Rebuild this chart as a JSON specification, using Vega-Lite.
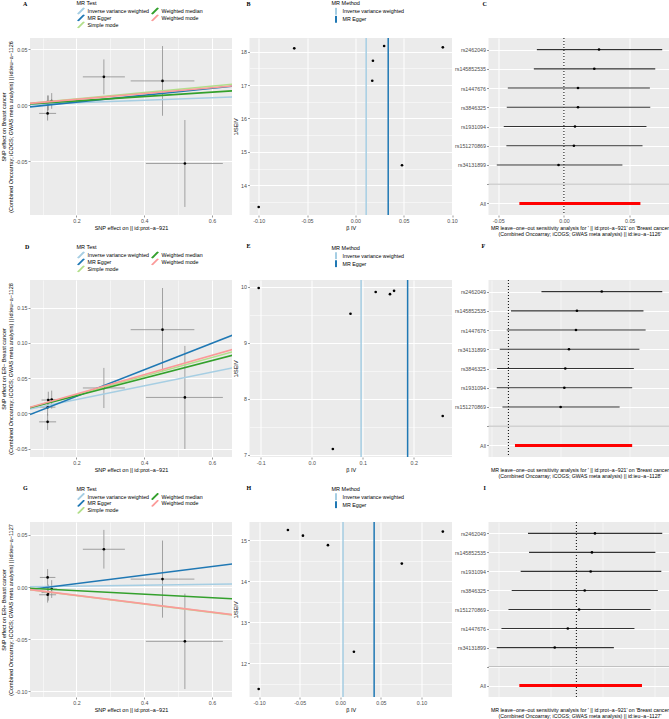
{
"$schema": "https://vega.github.io/schema/vega-lite/v6.json",
"autosize": {"type": "none"},
"padding": {"left": 30, "top": 38, "right": 639, "bottom": 681},
"background": "white",
"bounds": "flush",
"align": "each",
"columns": 4,
"spacing": {"row": 65, "column": 17.5},
"resolve": {"scale": {"color": "independent"}, "legend": {"color": "independent"}},
"datasets": {
"scA": [
{"snp":"S1","bx":0.115,"bx_lo":0.090,"bx_hi":0.140,"by":-0.0073,"by_lo":-0.0137,"by_hi":-0.0009},
{"snp":"S2","bx":0.127,"bx_lo":0.112,"bx_hi":0.142,"by":0.0038,"by_lo":-0.0032,"by_hi":0.0108},
{"snp":"S3","bx":0.117,"bx_lo":0.097,"bx_hi":0.137,"by":0.0021,"by_lo":-0.0045,"by_hi":0.0087},
{"snp":"S4","bx":0.115,"bx_lo":0.092,"bx_hi":0.138,"by":0.0020,"by_lo":-0.0047,"by_hi":0.0087},
{"snp":"S5","bx":0.281,"bx_lo":0.219,"bx_hi":0.343,"by":0.0253,"by_lo":0.0097,"by_hi":0.0409},
{"snp":"S6","bx":0.454,"bx_lo":0.360,"bx_hi":0.548,"by":0.0217,"by_lo":-0.0094,"by_hi":0.0528},
{"snp":"S7","bx":0.520,"bx_lo":0.405,"bx_hi":0.632,"by":-0.052,"by_lo":-0.0908,"by_hi":-0.0132}
],
"scD": [
{"snp":"S1","bx":0.115,"bx_lo":0.090,"bx_hi":0.140,"by":-0.012,"by_lo":-0.0235,"by_hi":-0.0005},
{"snp":"S2","bx":0.127,"bx_lo":0.112,"bx_hi":0.142,"by":0.0195,"by_lo":0.0067,"by_hi":0.0323},
{"snp":"S3","bx":0.117,"bx_lo":0.097,"bx_hi":0.137,"by":0.0189,"by_lo":0.0071,"by_hi":0.0307},
{"snp":"S4","bx":0.115,"bx_lo":0.092,"bx_hi":0.138,"by":0.0088,"by_lo":-0.0033,"by_hi":0.0209},
{"snp":"S5","bx":0.281,"bx_lo":0.219,"bx_hi":0.343,"by":0.036,"by_lo":0.0076,"by_hi":0.0644},
{"snp":"S6","bx":0.454,"bx_lo":0.360,"bx_hi":0.548,"by":0.1186,"by_lo":0.0596,"by_hi":0.1776},
{"snp":"S7","bx":0.520,"bx_lo":0.405,"bx_hi":0.632,"by":0.0226,"by_lo":-0.0504,"by_hi":0.0956}
],
"scG": [
{"snp":"S1","bx":0.115,"bx_lo":0.090,"bx_hi":0.140,"by":-0.0074,"by_lo":-0.0149,"by_hi":0.0001},
{"snp":"S2","bx":0.127,"bx_lo":0.112,"bx_hi":0.142,"by":-0.0019,"by_lo":-0.0104,"by_hi":0.0066},
{"snp":"S3","bx":0.117,"bx_lo":0.097,"bx_hi":0.137,"by":-0.0053,"by_lo":-0.0130,"by_hi":0.0024},
{"snp":"S4","bx":0.115,"bx_lo":0.092,"bx_hi":0.138,"by":0.0092,"by_lo":0.0012,"by_hi":0.0172},
{"snp":"S5","bx":0.281,"bx_lo":0.219,"bx_hi":0.343,"by":0.0362,"by_lo":0.0177,"by_hi":0.0547},
{"snp":"S6","bx":0.454,"bx_lo":0.360,"bx_hi":0.548,"by":0.0076,"by_lo":-0.0293,"by_hi":0.0445},
{"snp":"S7","bx":0.520,"bx_lo":0.405,"bx_hi":0.632,"by":-0.052,"by_lo":-0.0977,"by_hi":-0.0063}
],
"lnA": [
{"method":"Inverse variance weighted","x":0.063,"y":0.0007},{"method":"Inverse variance weighted","x":0.66,"y":0.0074},
{"method":"MR Egger","x":0.063,"y":-0.0015},{"method":"MR Egger","x":0.66,"y":0.0169},
{"method":"Simple mode","x":0.063,"y":0.0018},{"method":"Simple mode","x":0.66,"y":0.0188},
{"method":"Weighted median","x":0.063,"y":0.0012},{"method":"Weighted median","x":0.66,"y":0.0128},
{"method":"Weighted mode","x":0.063,"y":0.0016},{"method":"Weighted mode","x":0.66,"y":0.0172}
],
"lnD": [
{"method":"Inverse variance weighted","x":0.063,"y":0.0061},{"method":"Inverse variance weighted","x":0.66,"y":0.0644},
{"method":"MR Egger","x":0.063,"y":-0.0017},{"method":"MR Egger","x":0.66,"y":0.1106},
{"method":"Simple mode","x":0.063,"y":0.0083},{"method":"Simple mode","x":0.66,"y":0.0871},
{"method":"Weighted median","x":0.063,"y":0.0079},{"method":"Weighted median","x":0.66,"y":0.0823},
{"method":"Weighted mode","x":0.063,"y":0.0086},{"method":"Weighted mode","x":0.66,"y":0.0904}
],
"lnG": [
{"method":"Inverse variance weighted","x":0.063,"y":0.0003},{"method":"Inverse variance weighted","x":0.66,"y":0.0029},
{"method":"MR Egger","x":0.063,"y":-0.0024},{"method":"MR Egger","x":0.66,"y":0.0221},
{"method":"Simple mode","x":0.063,"y":-0.0026},{"method":"Simple mode","x":0.66,"y":-0.0267},
{"method":"Weighted median","x":0.063,"y":-0.0011},{"method":"Weighted median","x":0.66,"y":-0.0112},
{"method":"Weighted mode","x":0.063,"y":-0.0025},{"method":"Weighted mode","x":0.66,"y":-0.0264}
],
"fB": [{"b":-0.1,"s":13.35},{"b":-0.0632,"s":18.1},{"b":0.0182,"s":17.73},{"b":0.0175,"s":17.13},{"b":0.0298,"s":18.17},{"b":0.0483,"s":14.6},{"b":0.0905,"s":18.13}],
"fE": [{"b":-0.104,"s":9.98},{"b":0.076,"s":9.52},{"b":0.1254,"s":9.91},{"b":0.1534,"s":9.87},{"b":0.1614,"s":9.93},{"b":0.0414,"s":7.1},{"b":0.2568,"s":7.69}],
"fH": [{"b":-0.1005,"s":11.37},{"b":-0.0645,"s":15.25},{"b":-0.046,"s":15.11},{"b":-0.0152,"s":14.88},{"b":0.0168,"s":12.28},{"b":0.0758,"s":14.43},{"b":0.1263,"s":15.21}],
"vB": [{"method":"Inverse variance weighted","b":0.0112},{"method":"MR Egger","b":0.034}],
"vE": [{"method":"Inverse variance weighted","b":0.0968},{"method":"MR Egger","b":0.188}],
"vH": [{"method":"Inverse variance weighted","b":0.0034},{"method":"MR Egger","b":0.0417}],
"loC": [
{"SNP":"rs2462049","b":0.0267,"lo":-0.0206,"hi":0.0748},
{"SNP":"rs145852535","b":0.0231,"lo":-0.0229,"hi":0.0695},
{"SNP":"rs1447676","b":0.0107,"lo":-0.0427,"hi":0.0654},
{"SNP":"rs3846325","b":0.0107,"lo":-0.0435,"hi":0.0657},
{"SNP":"rs1931094","b":0.0084,"lo":-0.0458,"hi":0.0628},
{"SNP":"rs151270869","b":0.0076,"lo":-0.0438,"hi":0.0598},
{"SNP":"rs34131899","b":-0.0041,"lo":-0.0511,"hi":0.0445},
{"SNP":"All","b":0.0122,"lo":-0.0339,"hi":0.0582}
],
"loF": [
{"SNP":"rs2462049","b":0.1347,"lo":0.0477,"hi":0.222},
{"SNP":"rs145852535","b":0.0989,"lo":0.0038,"hi":0.1949},
{"SNP":"rs1447676","b":0.0975,"lo":-0.0024,"hi":0.198},
{"SNP":"rs34131899","b":0.0874,"lo":-0.0124,"hi":0.189},
{"SNP":"rs3846325","b":0.0821,"lo":-0.0163,"hi":0.181},
{"SNP":"rs1931094","b":0.0807,"lo":-0.0168,"hi":0.1786},
{"SNP":"rs151270869","b":0.0754,"lo":-0.0086,"hi":0.1605},
{"SNP":"All","b":0.094,"lo":0.0095,"hi":0.1786}
],
"loI": [
{"SNP":"rs2462049","b":0.0178,"lo":-0.0463,"hi":0.0822},
{"SNP":"rs145852535","b":0.0149,"lo":-0.0453,"hi":0.0756},
{"SNP":"rs1931094","b":0.0137,"lo":-0.0533,"hi":0.0813},
{"SNP":"rs3846325","b":0.008,"lo":-0.0619,"hi":0.078},
{"SNP":"rs151270869","b":0.0026,"lo":-0.065,"hi":0.0711},
{"SNP":"rs1447676","b":-0.0082,"lo":-0.0717,"hi":0.0556},
{"SNP":"rs34131899","b":-0.0207,"lo":-0.0762,"hi":0.0359},
{"SNP":"All","b":0.0041,"lo":-0.0546,"hi":0.0628}
],
"sep": [{"SNP":" "}],
"one": [{}]
},
"concat": [
  {"width": 202, "height": 177, "title": {"text": "A", "dx": -7, "offset": -6},
   "layer": [
    {"data": {"name": "scA"}, "mark": {"type": "rule", "color": "#8C8C8C", "strokeWidth": 0.8},
     "encoding": {
      "x": {"field": "bx_lo", "type": "quantitative", "scale": {"domain": [0.063, 0.659], "nice": false, "zero": false},
        "axis": {"title": "SNP effect on  || id:prot−a−921", "values": [0.1,0.2,0.3,0.4,0.5,0.6], "format": ".1f",
          "labelExpr": "indexof([0.1,0.3,0.5], datum.value) >= 0 ? '' : datum.label",
          "gridWidth": {"condition": {"test": "indexof([0.1,0.3,0.5], datum.value) >= 0", "value": 0.5}, "value": 1},
          "tickOpacity": {"condition": {"test": "indexof([0.1,0.3,0.5], datum.value) >= 0", "value": 0}, "value": 1}}},
      "x2": {"field": "bx_hi"},
      "y": {"field": "by", "type": "quantitative", "scale": {"domain": [-0.098, 0.06], "nice": false, "zero": false},
        "axis": {"title": ["SNP effect on Breast cancer", "(Combined Oncoarray; iCOGS; GWAS meta analysis) || id:ieu−a−1126"], "titlePadding": 1, "values": [-0.05,0,0.05], "format": ".2f", "gridWidth": 1}}}},
    {"data": {"name": "scA"}, "mark": {"type": "rule", "color": "#8C8C8C", "strokeWidth": 0.8},
     "encoding": {"x": {"field": "bx", "type": "quantitative"}, "y": {"field": "by_lo", "type": "quantitative"}, "y2": {"field": "by_hi"}}},
    {"data": {"name": "scA"}, "mark": {"type": "point", "filled": true, "color": "#000000", "size": 7, "opacity": 1},
     "encoding": {"x": {"field": "bx", "type": "quantitative"}, "y": {"field": "by", "type": "quantitative"}}},
    {"data": {"name": "lnA"}, "mark": {"type": "line", "strokeWidth": 1.6, "clip": true},
     "encoding": {"x": {"field": "x", "type": "quantitative"}, "y": {"field": "y", "type": "quantitative"},
      "color": {"field": "method", "type": "nominal",
        "scale": {"domain": ["Inverse variance weighted","MR Egger","Simple mode","Weighted median","Weighted mode"], "range": ["#A6CEE3","#1F78B4","#B2DF8A","#33A02C","#FB9A99"]},
        "legend": {"title": "MR Test", "orient": "none", "legendX": 46.5, "legendY": -37, "columns": 2, "symbolType": "M-1,1L1,-1", "symbolSize": 42, "symbolStrokeWidth": 1.8, "clipHeight": 6.8, "columnPadding": 1, "rowPadding": 0, "labelOffset": 2, "titlePadding": 1, "padding": 0}}}}
   ]},
  {"width": 202.5, "height": 177, "title": {"text": "B", "dx": -3, "offset": -6},
   "layer": [
    {"data": {"name": "fB"}, "mark": {"type": "point", "filled": true, "color": "#000000", "size": 7, "opacity": 1},
     "encoding": {
      "x": {"field": "b", "type": "quantitative", "scale": {"domain": [-0.1095, 0.1], "nice": false, "zero": false},
        "axis": {"title": "β IV", "values": [-0.1,-0.075,-0.05,-0.025,0,0.025,0.05,0.075,0.1], "format": ".2f",
          "labelExpr": "indexof([-0.075,-0.025,0.025,0.075], datum.value) >= 0 ? '' : datum.label",
          "gridWidth": {"condition": {"test": "indexof([-0.075,-0.025,0.025,0.075], datum.value) >= 0", "value": 0.5}, "value": 1},
          "tickOpacity": {"condition": {"test": "indexof([-0.075,-0.025,0.025,0.075], datum.value) >= 0", "value": 0}, "value": 1}}},
      "y": {"field": "s", "type": "quantitative", "scale": {"domain": [13.11, 18.41], "nice": false, "zero": false},
        "axis": {"title": "1/SEIV", "values": [13.5,14,14.5,15,15.5,16,16.5,17,17.5,18], "format": ".0f",
          "labelExpr": "indexof([13.5,14.5,15.5,16.5,17.5], datum.value) >= 0 ? '' : datum.label",
          "gridWidth": {"condition": {"test": "indexof([13.5,14.5,15.5,16.5,17.5], datum.value) >= 0", "value": 0.5}, "value": 1},
          "tickOpacity": {"condition": {"test": "indexof([13.5,14.5,15.5,16.5,17.5], datum.value) >= 0", "value": 0}, "value": 1}}}}},
    {"data": {"name": "vB"}, "mark": {"type": "rule", "strokeWidth": 1.5},
     "encoding": {"x": {"field": "b", "type": "quantitative"},
      "color": {"field": "method", "type": "nominal", "scale": {"domain": ["Inverse variance weighted","MR Egger"], "range": ["#A6CEE3","#1F78B4"]},
        "legend": {"title": "MR Method", "orient": "none", "legendX": 82, "legendY": -37, "symbolType": "M0,-1L0,1", "symbolSize": 49, "symbolStrokeWidth": 2, "clipHeight": 7.5, "rowPadding": 0, "labelOffset": 2, "titlePadding": 1, "padding": 0}}}}
   ]},
  {"width": 0.01, "height": 177, "view": {"fill": null, "stroke": null}, "data": {"name": "one"}, "mark": {"type": "point", "opacity": 0}, "encoding": {}},
  {"width": 182, "height": 177, "title": {"text": "C", "dx": -6, "offset": 31},
   "layer": [
    {"data": {"name": "one"}, "mark": {"type": "rule", "color": "#000000", "strokeWidth": 1, "strokeDash": [1, 2]},
     "encoding": {"x": {"datum": 0, "type": "quantitative", "scale": {"domain": [-0.0574, 0.0811], "nice": false, "zero": false},
       "axis": {"title": ["MR leave−one−out sensitivity analysis for ' || id:prot−a−921' on 'Breast cancer", "(Combined Oncoarray; iCOGS; GWAS meta analysis) || id:ieu−a−1126'"], "titleFontSize": 5.2, "values": [-0.05,-0.025,0,0.025,0.05,0.075], "format": ".2f",
         "labelExpr": "indexof([-0.025,0.025,0.075], datum.value) >= 0 ? '' : datum.label",
         "gridWidth": {"condition": {"test": "indexof([-0.025,0.025,0.075], datum.value) >= 0", "value": 0.5}, "value": 1},
         "tickOpacity": {"condition": {"test": "indexof([-0.025,0.025,0.075], datum.value) >= 0", "value": 0}, "value": 1}}}}},
    {"data": {"name": "sep"}, "mark": {"type": "rule", "color": "#BEBEBE", "strokeWidth": 1},
     "encoding": {"y": {"field": "SNP", "type": "nominal", "scale": {"type": "point", "padding": 0.6, "domain": ["rs2462049","rs145852535","rs1447676","rs3846325","rs1931094","rs151270869","rs34131899"," ","All"]}, "axis": {"title": null, "grid": true, "gridWidth": 1}}}},
    {"data": {"name": "loC"}, "transform": [{"filter": "datum.SNP !== 'All'"}], "mark": {"type": "rule", "color": "#333333", "strokeWidth": 1.2},
     "encoding": {"x": {"field": "lo", "type": "quantitative"}, "x2": {"field": "hi"}, "y": {"field": "SNP", "type": "nominal"}}},
    {"data": {"name": "loC"}, "transform": [{"filter": "datum.SNP !== 'All'"}], "mark": {"type": "point", "filled": true, "color": "#000000", "size": 7, "opacity": 1},
     "encoding": {"x": {"field": "b", "type": "quantitative"}, "y": {"field": "SNP", "type": "nominal"}}},
    {"data": {"name": "loC"}, "transform": [{"filter": "datum.SNP === 'All'"}], "mark": {"type": "rule", "color": "#FF0000", "strokeWidth": 3},
     "encoding": {"x": {"field": "lo", "type": "quantitative"}, "x2": {"field": "hi"}, "y": {"field": "SNP", "type": "nominal"}}}
   ]},
  {"width": 202, "height": 177, "title": {"text": "D", "dx": -5, "offset": -5},
   "layer": [
    {"data": {"name": "scD"}, "mark": {"type": "rule", "color": "#8C8C8C", "strokeWidth": 0.8},
     "encoding": {
      "x": {"field": "bx_lo", "type": "quantitative", "scale": {"domain": [0.063, 0.659], "nice": false, "zero": false},
        "axis": {"title": "SNP effect on  || id:prot−a−921", "values": [0.1,0.2,0.3,0.4,0.5,0.6], "format": ".1f",
          "labelExpr": "indexof([0.1,0.3,0.5], datum.value) >= 0 ? '' : datum.label",
          "gridWidth": {"condition": {"test": "indexof([0.1,0.3,0.5], datum.value) >= 0", "value": 0.5}, "value": 1},
          "tickOpacity": {"condition": {"test": "indexof([0.1,0.3,0.5], datum.value) >= 0", "value": 0}, "value": 1}}},
      "x2": {"field": "bx_hi"},
      "y": {"field": "by", "type": "quantitative", "scale": {"domain": [-0.0618, 0.189], "nice": false, "zero": false},
        "axis": {"title": ["SNP effect on ER− Breast cancer", "(Combined Oncoarray; iCOGS; GWAS meta analysis) || id:ieu−a−1128"], "titlePadding": 1, "values": [-0.05,-0.025,0,0.025,0.05,0.075,0.1,0.125,0.15,0.175], "format": ".2f",
          "labelExpr": "indexof([-0.025,0.025,0.075,0.125,0.175], datum.value) >= 0 ? '' : datum.label",
          "gridWidth": {"condition": {"test": "indexof([-0.025,0.025,0.075,0.125,0.175], datum.value) >= 0", "value": 0.5}, "value": 1},
          "tickOpacity": {"condition": {"test": "indexof([-0.025,0.025,0.075,0.125,0.175], datum.value) >= 0", "value": 0}, "value": 1}}}}},
    {"data": {"name": "scD"}, "mark": {"type": "rule", "color": "#8C8C8C", "strokeWidth": 0.8},
     "encoding": {"x": {"field": "bx", "type": "quantitative"}, "y": {"field": "by_lo", "type": "quantitative"}, "y2": {"field": "by_hi"}}},
    {"data": {"name": "scD"}, "mark": {"type": "point", "filled": true, "color": "#000000", "size": 7, "opacity": 1},
     "encoding": {"x": {"field": "bx", "type": "quantitative"}, "y": {"field": "by", "type": "quantitative"}}},
    {"data": {"name": "lnD"}, "mark": {"type": "line", "strokeWidth": 1.6, "clip": true},
     "encoding": {"x": {"field": "x", "type": "quantitative"}, "y": {"field": "y", "type": "quantitative"},
      "color": {"field": "method", "type": "nominal",
        "scale": {"domain": ["Inverse variance weighted","MR Egger","Simple mode","Weighted median","Weighted mode"], "range": ["#A6CEE3","#1F78B4","#B2DF8A","#33A02C","#FB9A99"]},
        "legend": {"title": "MR Test", "orient": "none", "legendX": 46.5, "legendY": -35, "columns": 2, "symbolType": "M-1,1L1,-1", "symbolSize": 42, "symbolStrokeWidth": 1.8, "clipHeight": 6.8, "columnPadding": 1, "rowPadding": 0, "labelOffset": 2, "titlePadding": 1, "padding": 0}}}}
   ]},
  {"width": 202.5, "height": 177, "title": {"text": "E", "dx": -3, "offset": -3.5},
   "layer": [
    {"data": {"name": "fE"}, "mark": {"type": "point", "filled": true, "color": "#000000", "size": 7, "opacity": 1},
     "encoding": {
      "x": {"field": "b", "type": "quantitative", "scale": {"domain": [-0.122, 0.275], "nice": false, "zero": false},
        "axis": {"title": "β IV", "values": [-0.1,-0.05,0,0.05,0.1,0.15,0.2,0.25], "format": ".1f",
          "labelExpr": "indexof([-0.05,0.05,0.15,0.25], datum.value) >= 0 ? '' : datum.label",
          "gridWidth": {"condition": {"test": "indexof([-0.05,0.05,0.15,0.25], datum.value) >= 0", "value": 0.5}, "value": 1},
          "tickOpacity": {"condition": {"test": "indexof([-0.05,0.05,0.15,0.25], datum.value) >= 0", "value": 0}, "value": 1}}},
      "y": {"field": "s", "type": "quantitative", "scale": {"domain": [6.956, 10.124], "nice": false, "zero": false},
        "axis": {"title": "1/SEIV", "values": [7,7.5,8,8.5,9,9.5,10], "format": ".0f",
          "labelExpr": "indexof([7.5,8.5,9.5], datum.value) >= 0 ? '' : datum.label",
          "gridWidth": {"condition": {"test": "indexof([7.5,8.5,9.5], datum.value) >= 0", "value": 0.5}, "value": 1},
          "tickOpacity": {"condition": {"test": "indexof([7.5,8.5,9.5], datum.value) >= 0", "value": 0}, "value": 1}}}}},
    {"data": {"name": "vE"}, "mark": {"type": "rule", "strokeWidth": 1.5},
     "encoding": {"x": {"field": "b", "type": "quantitative"},
      "color": {"field": "method", "type": "nominal", "scale": {"domain": ["Inverse variance weighted","MR Egger"], "range": ["#A6CEE3","#1F78B4"]},
        "legend": {"title": "MR Method", "orient": "none", "legendX": 82, "legendY": -34.5, "symbolType": "M0,-1L0,1", "symbolSize": 49, "symbolStrokeWidth": 2, "clipHeight": 7.5, "rowPadding": 0, "labelOffset": 2, "titlePadding": 1, "padding": 0}}}}
   ]},
  {"width": 0.01, "height": 177, "view": {"fill": null, "stroke": null}, "data": {"name": "one"}, "mark": {"type": "point", "opacity": 0}, "encoding": {}},
  {"width": 182, "height": 177, "title": {"text": "F", "dx": -7, "offset": 31},
   "layer": [
    {"data": {"name": "one"}, "mark": {"type": "rule", "color": "#000000", "strokeWidth": 1, "strokeDash": [1, 2]},
     "encoding": {"x": {"datum": 0, "type": "quantitative", "scale": {"domain": [-0.0287, 0.2339], "nice": false, "zero": false},
       "axis": {"title": ["MR leave−one−out sensitivity analysis for ' || id:prot−a−921' on 'Breast cancer", "(Combined Oncoarray; iCOGS; GWAS meta analysis) || id:ieu−a−1128'"], "titleFontSize": 5.2, "values": [-0.025,0,0.025,0.05,0.075,0.1,0.125,0.15,0.175,0.2,0.225], "format": ".2f",
         "labelExpr": "indexof([-0.025,0.025,0.075,0.125,0.175,0.225], datum.value) >= 0 ? '' : datum.label",
         "gridWidth": {"condition": {"test": "indexof([-0.025,0.025,0.075,0.125,0.175,0.225], datum.value) >= 0", "value": 0.5}, "value": 1},
         "tickOpacity": {"condition": {"test": "indexof([-0.025,0.025,0.075,0.125,0.175,0.225], datum.value) >= 0", "value": 0}, "value": 1}}}}},
    {"data": {"name": "sep"}, "mark": {"type": "rule", "color": "#BEBEBE", "strokeWidth": 1},
     "encoding": {"y": {"field": "SNP", "type": "nominal", "scale": {"type": "point", "padding": 0.6, "domain": ["rs2462049","rs145852535","rs1447676","rs34131899","rs3846325","rs1931094","rs151270869"," ","All"]}, "axis": {"title": null, "grid": true, "gridWidth": 1}}}},
    {"data": {"name": "loF"}, "transform": [{"filter": "datum.SNP !== 'All'"}], "mark": {"type": "rule", "color": "#333333", "strokeWidth": 1.2},
     "encoding": {"x": {"field": "lo", "type": "quantitative"}, "x2": {"field": "hi"}, "y": {"field": "SNP", "type": "nominal"}}},
    {"data": {"name": "loF"}, "transform": [{"filter": "datum.SNP !== 'All'"}], "mark": {"type": "point", "filled": true, "color": "#000000", "size": 7, "opacity": 1},
     "encoding": {"x": {"field": "b", "type": "quantitative"}, "y": {"field": "SNP", "type": "nominal"}}},
    {"data": {"name": "loF"}, "transform": [{"filter": "datum.SNP === 'All'"}], "mark": {"type": "rule", "color": "#FF0000", "strokeWidth": 3},
     "encoding": {"x": {"field": "lo", "type": "quantitative"}, "x2": {"field": "hi"}, "y": {"field": "SNP", "type": "nominal"}}}
   ]},
  {"width": 202, "height": 175, "title": {"text": "G", "dx": -7, "offset": -4.5},
   "layer": [
    {"data": {"name": "scG"}, "mark": {"type": "rule", "color": "#8C8C8C", "strokeWidth": 0.8},
     "encoding": {
      "x": {"field": "bx_lo", "type": "quantitative", "scale": {"domain": [0.063, 0.659], "nice": false, "zero": false},
        "axis": {"title": "SNP effect on  || id:prot−a−921", "values": [0.1,0.2,0.3,0.4,0.5,0.6], "format": ".1f",
          "labelExpr": "indexof([0.1,0.3,0.5], datum.value) >= 0 ? '' : datum.label",
          "gridWidth": {"condition": {"test": "indexof([0.1,0.3,0.5], datum.value) >= 0", "value": 0.5}, "value": 1},
          "tickOpacity": {"condition": {"test": "indexof([0.1,0.3,0.5], datum.value) >= 0", "value": 0}, "value": 1}}},
      "x2": {"field": "bx_hi"},
      "y": {"field": "by", "type": "quantitative", "scale": {"domain": [-0.1053, 0.0623], "nice": false, "zero": false},
        "axis": {"title": ["SNP effect on ER+ Breast cancer", "(Combined Oncoarray; iCOGS; GWAS meta analysis) || id:ieu−a−1127"], "titlePadding": 1, "values": [-0.1,-0.075,-0.05,-0.025,0,0.025,0.05], "format": ".2f",
          "labelExpr": "indexof([-0.075,-0.025,0.025], datum.value) >= 0 ? '' : datum.label",
          "gridWidth": {"condition": {"test": "indexof([-0.075,-0.025,0.025], datum.value) >= 0", "value": 0.5}, "value": 1},
          "tickOpacity": {"condition": {"test": "indexof([-0.075,-0.025,0.025], datum.value) >= 0", "value": 0}, "value": 1}}}}},
    {"data": {"name": "scG"}, "mark": {"type": "rule", "color": "#8C8C8C", "strokeWidth": 0.8},
     "encoding": {"x": {"field": "bx", "type": "quantitative"}, "y": {"field": "by_lo", "type": "quantitative"}, "y2": {"field": "by_hi"}}},
    {"data": {"name": "scG"}, "mark": {"type": "point", "filled": true, "color": "#000000", "size": 7, "opacity": 1},
     "encoding": {"x": {"field": "bx", "type": "quantitative"}, "y": {"field": "by", "type": "quantitative"}}},
    {"data": {"name": "lnG"}, "mark": {"type": "line", "strokeWidth": 1.6, "clip": true},
     "encoding": {"x": {"field": "x", "type": "quantitative"}, "y": {"field": "y", "type": "quantitative"},
      "color": {"field": "method", "type": "nominal",
        "scale": {"domain": ["Inverse variance weighted","MR Egger","Simple mode","Weighted median","Weighted mode"], "range": ["#A6CEE3","#1F78B4","#B2DF8A","#33A02C","#FB9A99"]},
        "legend": {"title": "MR Test", "orient": "none", "legendX": 46.5, "legendY": -35.5, "columns": 2, "symbolType": "M-1,1L1,-1", "symbolSize": 42, "symbolStrokeWidth": 1.8, "clipHeight": 6.8, "columnPadding": 1, "rowPadding": 0, "labelOffset": 2, "titlePadding": 1, "padding": 0}}}}
   ]},
  {"width": 202.5, "height": 175, "title": {"text": "H", "dx": -3, "offset": -4.5},
   "layer": [
    {"data": {"name": "fH"}, "mark": {"type": "point", "filled": true, "color": "#000000", "size": 7, "opacity": 1},
     "encoding": {
      "x": {"field": "b", "type": "quantitative", "scale": {"domain": [-0.1118, 0.1376], "nice": false, "zero": false},
        "axis": {"title": "β IV", "values": [-0.1,-0.075,-0.05,-0.025,0,0.025,0.05,0.075,0.1,0.125], "format": ".2f",
          "labelExpr": "indexof([-0.075,-0.025,0.025,0.075,0.125], datum.value) >= 0 ? '' : datum.label",
          "gridWidth": {"condition": {"test": "indexof([-0.075,-0.025,0.025,0.075,0.125], datum.value) >= 0", "value": 0.5}, "value": 1},
          "tickOpacity": {"condition": {"test": "indexof([-0.075,-0.025,0.025,0.075,0.125], datum.value) >= 0", "value": 0}, "value": 1}}},
      "y": {"field": "s", "type": "quantitative", "scale": {"domain": [11.176, 15.444], "nice": false, "zero": false},
        "axis": {"title": "1/SEIV", "values": [11.5,12,12.5,13,13.5,14,14.5,15], "format": ".0f",
          "labelExpr": "indexof([11.5,12.5,13.5,14.5], datum.value) >= 0 ? '' : datum.label",
          "gridWidth": {"condition": {"test": "indexof([11.5,12.5,13.5,14.5], datum.value) >= 0", "value": 0.5}, "value": 1},
          "tickOpacity": {"condition": {"test": "indexof([11.5,12.5,13.5,14.5], datum.value) >= 0", "value": 0}, "value": 1}}}}},
    {"data": {"name": "vH"}, "mark": {"type": "rule", "strokeWidth": 1.5},
     "encoding": {"x": {"field": "b", "type": "quantitative"},
      "color": {"field": "method", "type": "nominal", "scale": {"domain": ["Inverse variance weighted","MR Egger"], "range": ["#A6CEE3","#1F78B4"]},
        "legend": {"title": "MR Method", "orient": "none", "legendX": 82, "legendY": -35.5, "symbolType": "M0,-1L0,1", "symbolSize": 49, "symbolStrokeWidth": 2, "clipHeight": 7.5, "rowPadding": 0, "labelOffset": 2, "titlePadding": 1, "padding": 0}}}}
   ]},
  {"width": 0.01, "height": 175, "view": {"fill": null, "stroke": null}, "data": {"name": "one"}, "mark": {"type": "point", "opacity": 0}, "encoding": {}},
  {"width": 182, "height": 175, "title": {"text": "I", "dx": -5, "offset": 31},
   "layer": [
    {"data": {"name": "one"}, "mark": {"type": "rule", "color": "#000000", "strokeWidth": 1, "strokeDash": [1, 2]},
     "encoding": {"x": {"datum": 0, "type": "quantitative", "scale": {"domain": [-0.0841, 0.0901], "nice": false, "zero": false},
       "axis": {"title": ["MR leave−one−out sensitivity analysis for ' || id:prot−a−921' on 'Breast cancer", "(Combined Oncoarray; iCOGS; GWAS meta analysis) || id:ieu−a−1127'"], "titleFontSize": 5.2, "values": [-0.075,-0.05,-0.025,0,0.025,0.05,0.075], "format": ".2f",
         "labelExpr": "indexof([-0.075,-0.025,0.025,0.075], datum.value) >= 0 ? '' : datum.label",
         "gridWidth": {"condition": {"test": "indexof([-0.075,-0.025,0.025,0.075], datum.value) >= 0", "value": 0.5}, "value": 1},
         "tickOpacity": {"condition": {"test": "indexof([-0.075,-0.025,0.025,0.075], datum.value) >= 0", "value": 0}, "value": 1}}}}},
    {"data": {"name": "sep"}, "mark": {"type": "rule", "color": "#BEBEBE", "strokeWidth": 1},
     "encoding": {"y": {"field": "SNP", "type": "nominal", "scale": {"type": "point", "padding": 0.6, "domain": ["rs2462049","rs145852535","rs1931094","rs3846325","rs151270869","rs1447676","rs34131899"," ","All"]}, "axis": {"title": null, "grid": true, "gridWidth": 1}}}},
    {"data": {"name": "loI"}, "transform": [{"filter": "datum.SNP !== 'All'"}], "mark": {"type": "rule", "color": "#333333", "strokeWidth": 1.2},
     "encoding": {"x": {"field": "lo", "type": "quantitative"}, "x2": {"field": "hi"}, "y": {"field": "SNP", "type": "nominal"}}},
    {"data": {"name": "loI"}, "transform": [{"filter": "datum.SNP !== 'All'"}], "mark": {"type": "point", "filled": true, "color": "#000000", "size": 7, "opacity": 1},
     "encoding": {"x": {"field": "b", "type": "quantitative"}, "y": {"field": "SNP", "type": "nominal"}}},
    {"data": {"name": "loI"}, "transform": [{"filter": "datum.SNP === 'All'"}], "mark": {"type": "rule", "color": "#FF0000", "strokeWidth": 3},
     "encoding": {"x": {"field": "lo", "type": "quantitative"}, "x2": {"field": "hi"}, "y": {"field": "SNP", "type": "nominal"}}}
   ]}
],
"config": {
 "font": "Liberation Sans",
 "locale": {"number": {"decimal": ".", "thousands": ",", "grouping": [3], "currency": ["$", ""], "minus": "-"}},
 "view": {"fill": "#EBEBEB", "stroke": null},
 "axis": {"domain": false, "labelFont": "Liberation Sans", "labelFontSize": 5.3, "labelColor": "#4D4D4D", "titleFont": "Liberation Sans", "titleFontSize": 5.5, "titleFontWeight": "normal", "titleColor": "#000000", "tickColor": "#333333", "tickSize": 2, "tickWidth": 0.5, "labelPadding": 1, "gridColor": "#FFFFFF", "titlePadding": 2, "labelFlush": false, "labelOverlap": false, "grid": true},
 "axisX": {"titleLineHeight": 6},
 "axisY": {"titleLineHeight": 7.5},
 "legend": {"labelFont": "Liberation Sans", "titleFont": "Liberation Sans", "labelFontSize": 5.3, "titleFontSize": 5.5, "titleFontWeight": "normal", "labelColor": "#000000", "titleColor": "#000000"},
 "title": {"font": "Liberation Serif", "fontSize": 6, "fontWeight": "bold", "anchor": "start", "frame": "group", "color": "#000000"}
}
}
